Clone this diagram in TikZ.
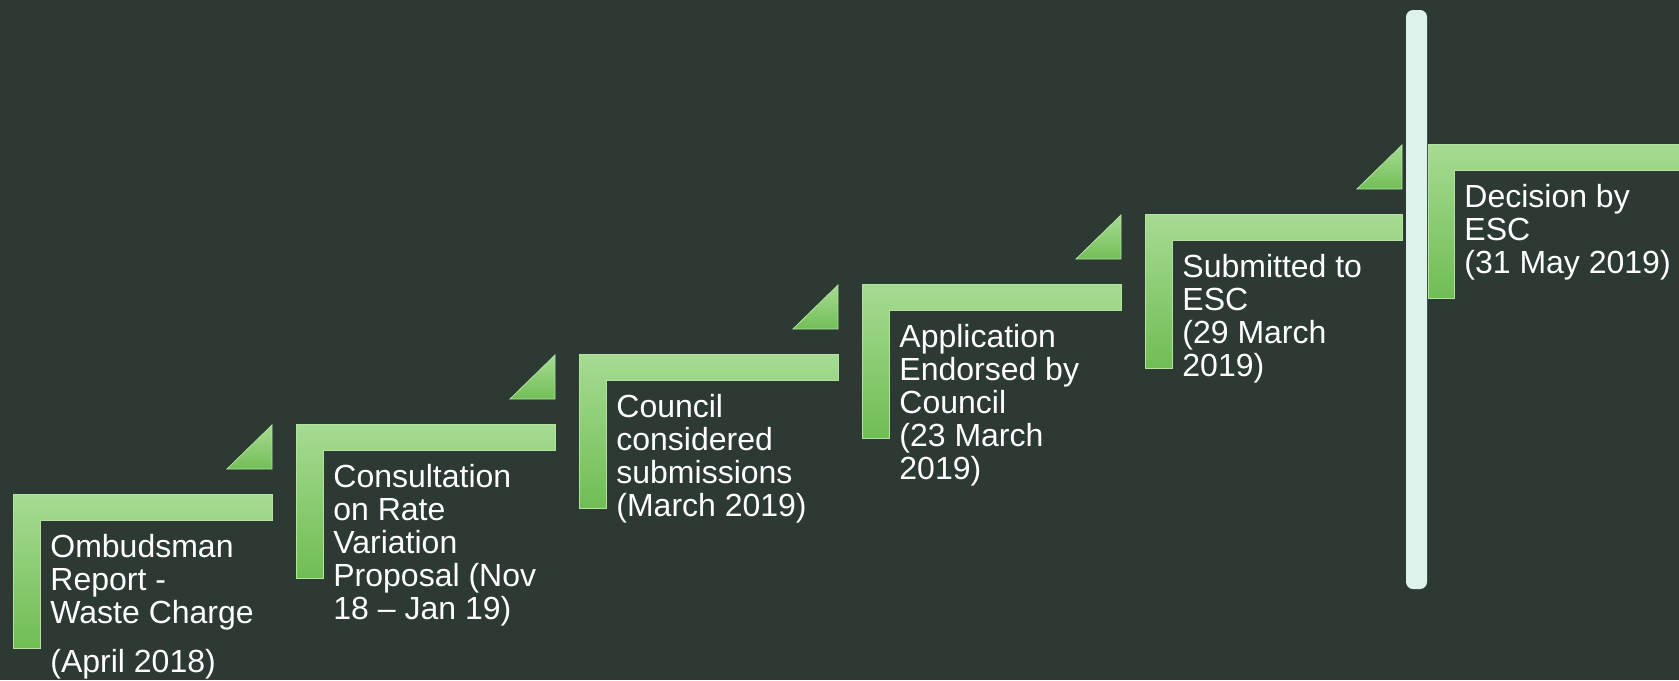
\documentclass[tikz,border=0pt]{standalone}
\usepackage{fontspec}
\setmainfont{Liberation Sans}
\definecolor{bgc}{HTML}{2C3A33}
\definecolor{glight}{HTML}{A6DB92}
\definecolor{gdark}{HTML}{70BD54}
\definecolor{gedge}{HTML}{B2E29E}
\definecolor{mint}{HTML}{DCF2EA}
\tikzset{
  stepshape/.style={top color=glight, bottom color=gdark, draw=gedge, line width=0.4pt},
  tri/.style={top color=glight, bottom color=gdark!95!glight, draw=gedge, line width=0.4pt},
  label/.style={anchor=north west, inner sep=0pt, align=left, text=white,
    font=\fontsize{16pt}{16.5pt}\selectfont},
}
\newcommand{\firstline}{\rule{0pt}{0.8em}}
\begin{document}
\begin{tikzpicture}[x=0.5pt,y=-0.5pt]
\fill[bgc] (0,0) rectangle (1679,680);
\useasboundingbox (0,0) rectangle (1679,680);
\clip (0,0) rectangle (1679,680);
% step 1
\path[stepshape] (13,494) -- (272,494) -- (272,520) -- (40,520) -- (40,648) -- (13,648) -- cycle;
\path[tri] (227,469) -- (272,469) -- (272,425) -- cycle;
\node[label] (s1) at (50,531.4) {\firstline Ombudsman\\Report -\\Waste Charge\\[8pt](April 2018)};
% step 2
\path[stepshape] (296,424) -- (555,424) -- (555,450) -- (323,450) -- (323,578) -- (296,578) -- cycle;
\path[tri] (510,399) -- (555,399) -- (555,355) -- cycle;
\node[label] (s2) at (333,461.4) {\firstline Consultation\\on Rate\\Variation\\Proposal (Nov\\18 – Jan 19)};
% step 3
\path[stepshape] (579,354) -- (838,354) -- (838,380) -- (606,380) -- (606,508) -- (579,508) -- cycle;
\path[tri] (793,329) -- (838,329) -- (838,285) -- cycle;
\node[label] (s3) at (616,391.4) {\firstline Council\\considered\\submissions\\(March 2019)};
% step 4
\path[stepshape] (862,284) -- (1121,284) -- (1121,310) -- (889,310) -- (889,438) -- (862,438) -- cycle;
\path[tri] (1076,259) -- (1121,259) -- (1121,215) -- cycle;
\node[label] (s4) at (899,321.4) {\firstline Application\\Endorsed by\\Council\\(23 March\\2019)};
% step 5
\path[stepshape] (1145,214) -- (1402,214) -- (1402,240) -- (1172,240) -- (1172,368) -- (1145,368) -- cycle;
\path[tri] (1357,189) -- (1402,189) -- (1402,145) -- cycle;
\node[label] (s5) at (1182,251.4) {\firstline Submitted to\\ESC\\(29 March\\2019)};
% step 6
\path[stepshape] (1428,144) -- (1690,144) -- (1690,170) -- (1454,170) -- (1454,298) -- (1428,298) -- cycle;
\node[label] (s6) at (1464,181.4) {\firstline Decision by\\ESC\\(31 May 2019)};
% timeline marker
\fill[mint, rounded corners=3.5pt] (1406,10) rectangle (1427,589);
\end{tikzpicture}
\end{document}
